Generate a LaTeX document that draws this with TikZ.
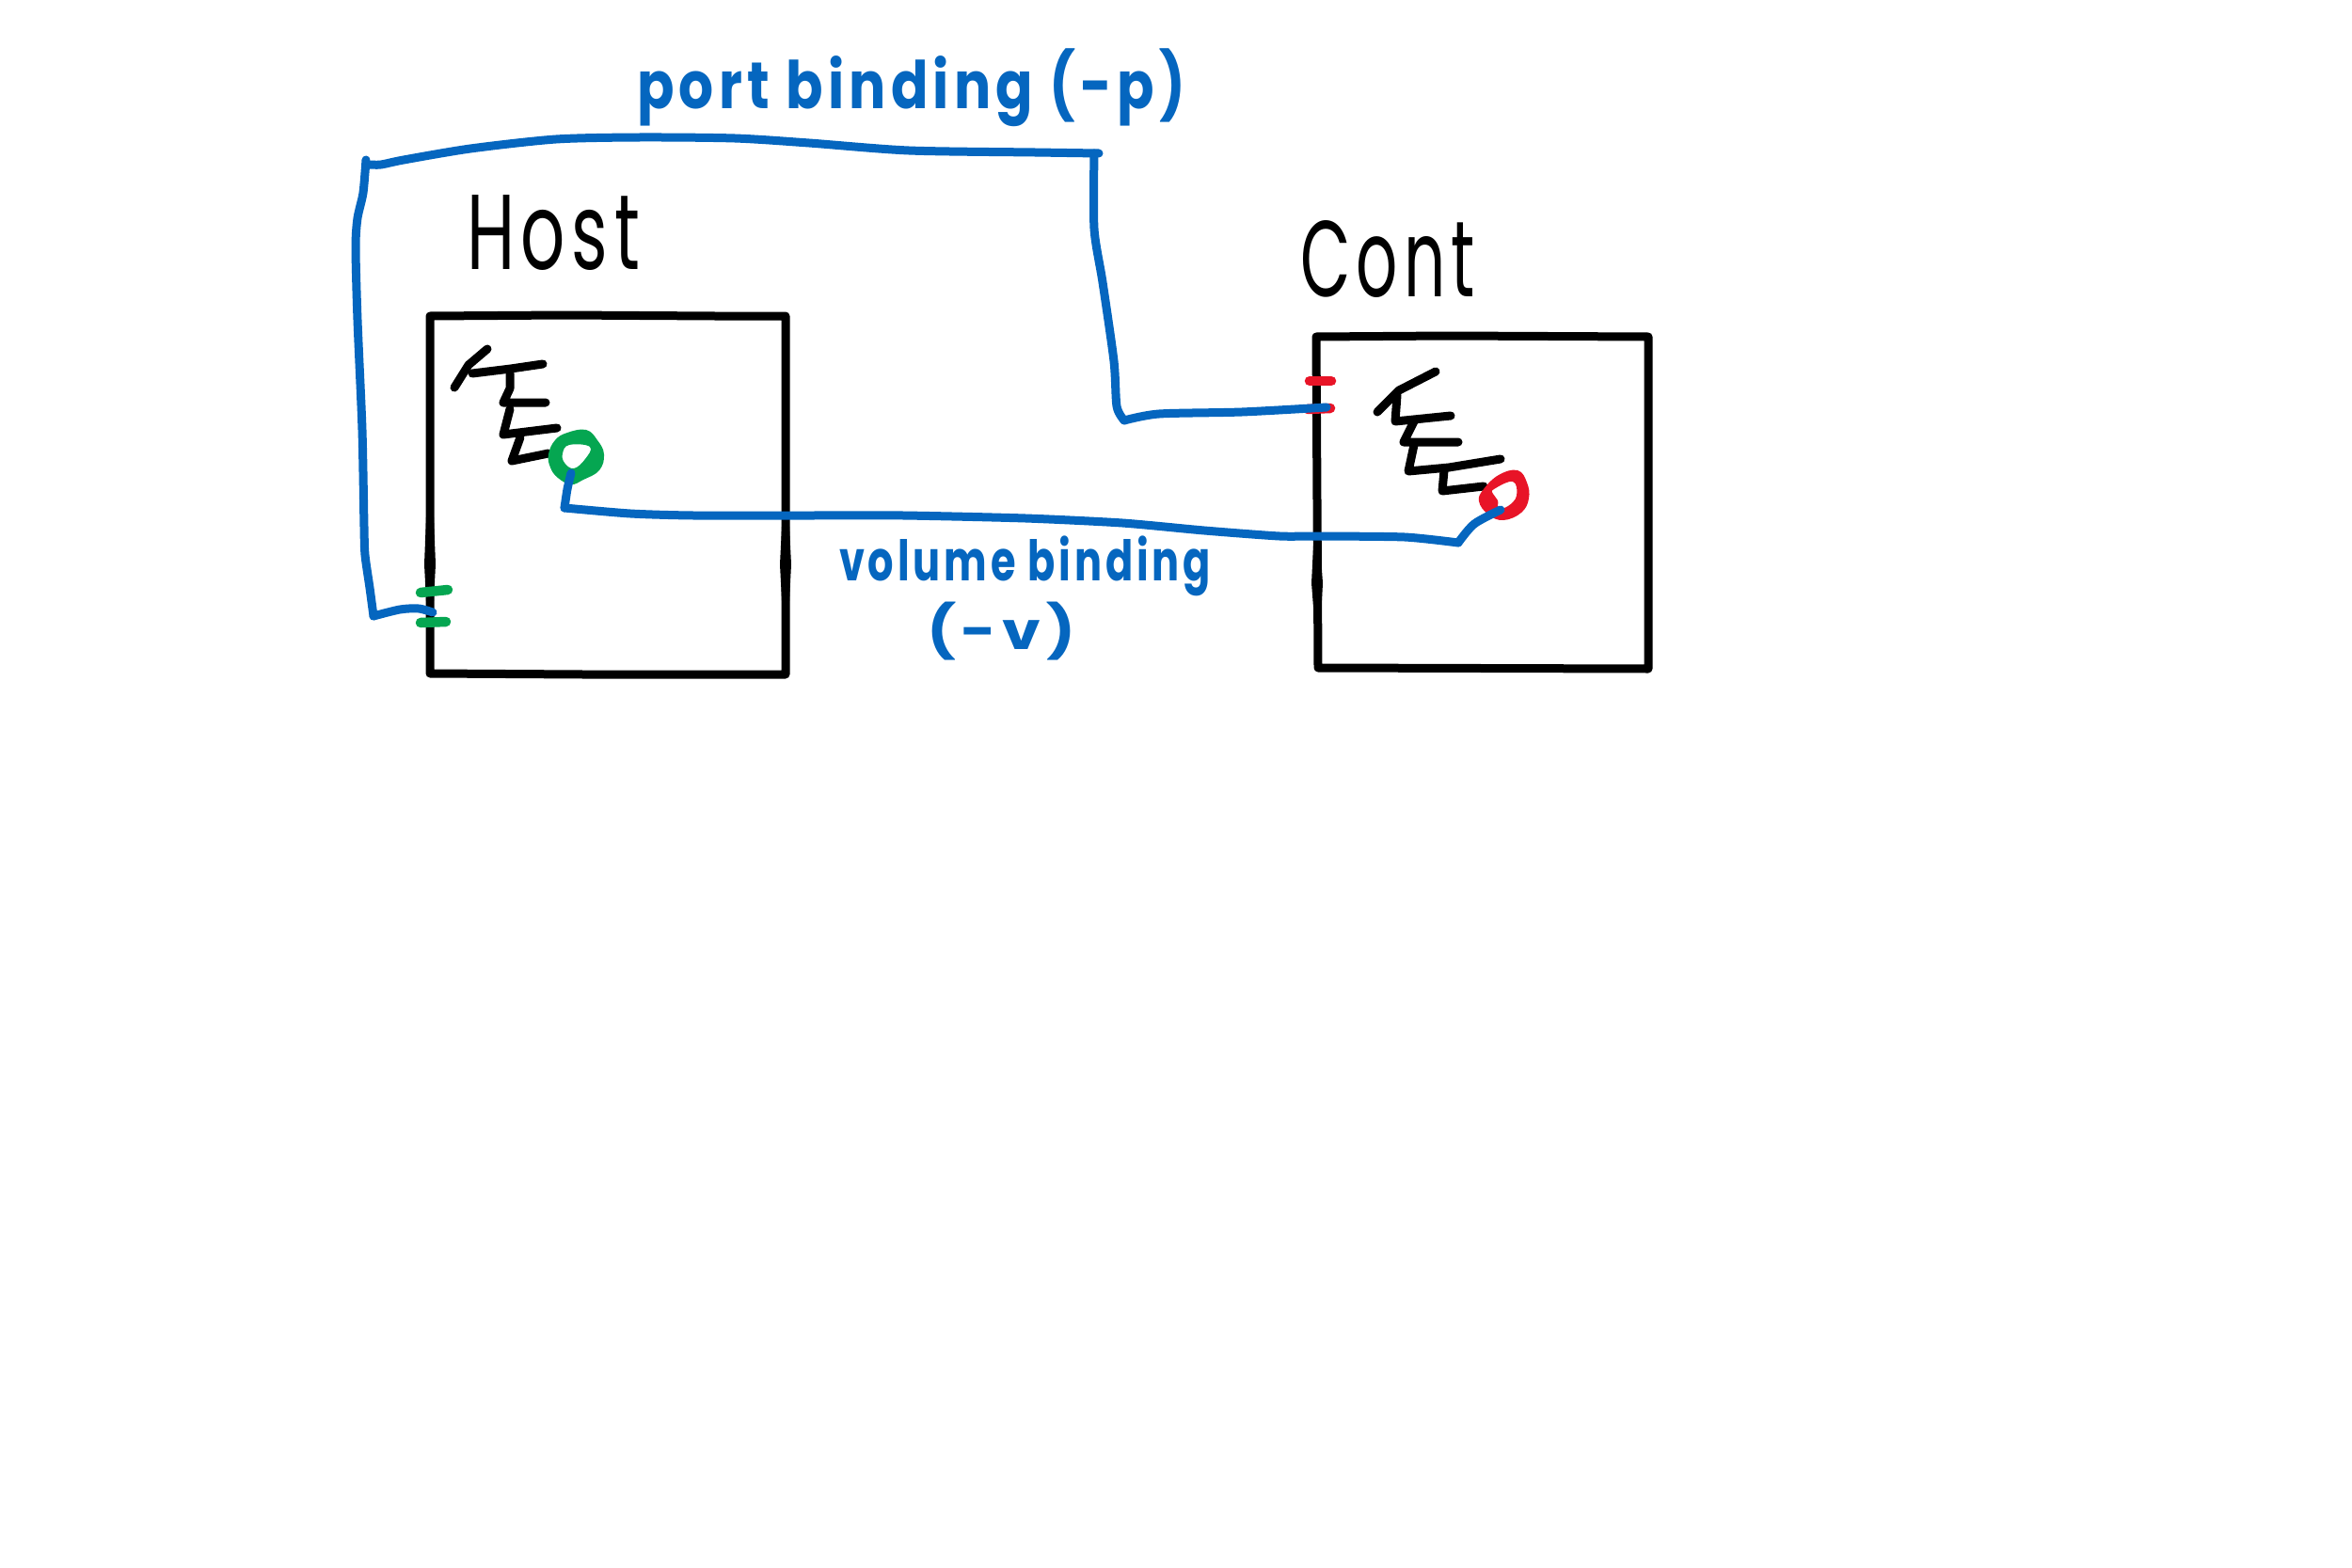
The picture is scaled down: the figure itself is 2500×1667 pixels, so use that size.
\documentclass[tikz,border=0pt]{standalone}
\usepackage{fontspec}
\setmainfont{Poppins}
\newfontfamily\handfont[LetterSpace=9]{Poppins}
\definecolor{inkblue}{HTML}{0566BF}
\definecolor{inkgreen}{HTML}{05A651}
\definecolor{inkred}{HTML}{E81427}
\tikzset{
  pen/.style={line cap=round,line join=round,line width=9pt},
  boxline/.style={pen,black},
  wire/.style={pen,inkblue},
  tick/.style={line cap=round,line width=10.5pt},
  hand/.style={inner sep=0pt,outer sep=0pt,anchor=north west,font=\handfont},
}
\begin{document}
\begin{tikzpicture}[x=1pt,y=-1pt]
\useasboundingbox[fill=white] (0,0) rectangle (2500,1667);

% named attachment points
\coordinate (hostport) at (460,651);
\coordinate (contport) at (1410,433);
\coordinate (hostvol) at (607,503);
\coordinate (contvol) at (1595,542);

% Host box
\draw[boxline] (457,336) -- (600,335) -- (760,336) -- (835,336) -- (835,717) -- (620,717) -- (457,716) -- cycle;
\fill[black] (835,480) -- (841,600) -- (835,716) -- (829,600) -- cycle;
\fill[black] (457,450) -- (463,600) -- (457,716) -- (451,600) -- cycle;
% Cont box
\draw[boxline] (1399,358) -- (1540,357) -- (1752,358) -- (1752,711) -- (1401,710) -- cycle;
\fill[black] (1399,520) -- (1406,620) -- (1401,710) -- (1394,620) -- cycle;

% Host tree
\draw[boxline] (518,371) -- (498,388) -- (483,412);
\draw[boxline] (502,397) -- (543,392) -- (577,387);
\draw[boxline] (542,397) -- (542,413) -- (535,428) -- (580,428);
\draw[boxline] (542,435) -- (535,462) -- (592,455);
\draw[boxline] (553,465) -- (544,490) -- (583,482);

% Cont tree
\draw[boxline] (1526,395) -- (1487,415) -- (1464,438);
\draw[boxline] (1485,420) -- (1483,448) -- (1542,442);
\draw[boxline] (1503,448) -- (1492,470) -- (1550,470);
\draw[boxline] (1503,473) -- (1497,501) -- (1540,497) -- (1595,488);
\draw[boxline] (1535,500) -- (1533,522) -- (1577,517);

% Rings
\fill[inkgreen,even odd rule]
  plot[smooth cycle,tension=.7] coordinates {(603,460) (623,457) (635,468) (642,483) (637,500) (620,510) (607,515) (593,508) (585,497) (583,483) (590,468)}
  plot[smooth cycle,tension=.7] coordinates {(605,473) (627,475) (622,488) (610,498) (600,492) (598,482)};
\fill[inkred,even odd rule]
  plot[smooth cycle,tension=.7] coordinates {(1577,520) (1593,505) (1613,500) (1623,513) (1625,530) (1617,545) (1598,553) (1582,547) (1572,533)}
  plot[smooth cycle,tension=.7] coordinates {(1588,520) (1608,512) (1612,527) (1603,538) (1593,540) (1592,532) (1587,525)};

% Port ticks
\draw[tick,inkgreen] (447,630) -- (476,627);
\draw[tick,inkgreen] (447,662) -- (474,661);
\draw[tick,inkred] (1392,405) -- (1415,405);
\draw[tick,inkred] (1390,435) -- (1414,434);

% Port binding wire
\draw[wire] plot[smooth,tension=.45] coordinates {(1168,163) (1100,162) (966,160) (860,152) (781,147) (680,146) (591,148) (500,158) (429,170) (405,175) (392,175)};
\draw[wire] plot[smooth,tension=.45] coordinates {(389,170) (386,205) (380,232) (378,263) (380,340) (385,457) (387,560) (388,590) (393,625) (397,655)};
\draw[wire] plot[smooth,tension=.5] coordinates {(397,655) (425,648) (445,647) (hostport)};
\draw[wire] plot[smooth,tension=.45] coordinates {(1163,163) (1163,243) (1172,300) (1184,384) (1187,432) (1195,447)};
\draw[wire] plot[smooth,tension=.45] coordinates {(1195,447) (1232,440) (1320,438) (contport)};

% Volume binding wire
\draw[wire] plot[smooth,tension=.4] coordinates {(hostvol) (603,520) (600,540)};
\draw[wire] plot[smooth,tension=.4] coordinates {(600,540) (670,546) (737,548) (860,548) (960,548) (1090,551) (1193,556) (1280,564) (1360,570) (1400,570) (1493,571) (1550,577)};
\draw[wire] plot[smooth,tension=.5] coordinates {(1550,577) (1567,557) (contvol)};

% Labels
\node[hand,text=inkblue] (portlabel) at (677,52) {\resizebox*{583pt}{83pt}{\bfseries port binding (-p)}};
\node[hand,text=black] (hostlabel) at (496,207) {\resizebox*{184pt}{80pt}{Host}};
\node[hand,text=black] (contlabel) at (1382,235) {\resizebox*{186pt}{82pt}{Cont}};
\node[hand,text=inkblue] (vollabel) at (892,570) {\resizebox*{395pt}{64pt}{\bfseries volume binding}};
\node[hand,text=inkblue] (vlabel) at (985,640) {\resizebox*{158pt}{62pt}{\bfseries (-v)}};
\end{tikzpicture}
\end{document}
